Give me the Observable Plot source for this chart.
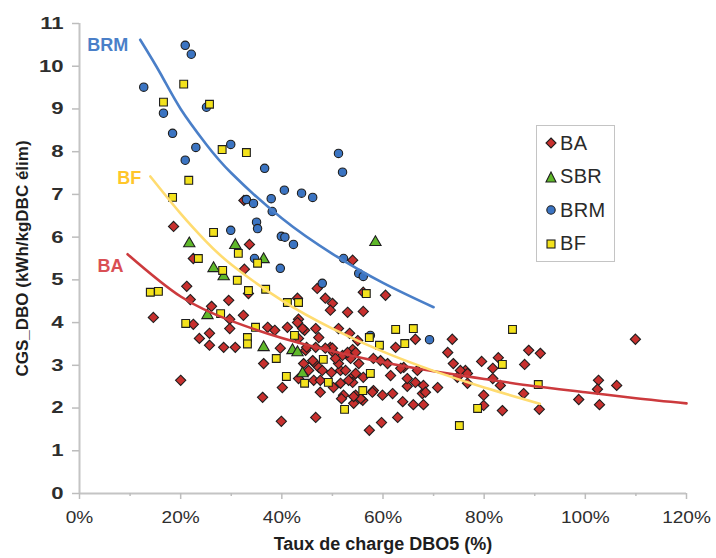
<!DOCTYPE html>
<html><head><meta charset="utf-8">
<script src="https://cdn.jsdelivr.net/npm/d3@7"></script>
<script src="https://cdn.jsdelivr.net/npm/@observablehq/plot@0.6"></script>
<style>
body{margin:0;background:#fff;font-family:"Liberation Sans",Arial,sans-serif;}
#wrap{position:relative;width:716px;height:558px;overflow:hidden;}
#legend{position:absolute;left:536px;top:125px;width:79px;height:137px;border:1.5px solid #c4c4c4;box-sizing:border-box;background:#fff;}
.li{position:absolute;left:8px;display:flex;align-items:center;font-size:20px;color:#2a2a2a;height:24px;letter-spacing:0.3px;}
.li svg{margin-right:3px;}
</style></head><body><div id="wrap"><div id="legend"></div></div>
<script>
// ---- data (x: taux de charge DBO5 in %, y: CGS_DBO) ----
const seriesNames = ["BA", "SBR", "BRM", "BF"];
const xTicks = [0, 20, 40, 60, 80, 100, 120];
const xMinorTicks = [10, 30, 50, 70, 90, 110];
const yTicks = [0, 1, 2, 3, 4, 5, 6, 7, 8, 9, 10, 11];

const baPoints = [
[18.6,6.25],[33.6,5.83],[22.5,5.5],[32.6,5.25],[54.0,5.46],[21.2,4.85],[33.4,4.68],[21.9,4.54],[29.5,4.52],[26.1,4.38],
[32.4,4.17],[14.6,4.12],[43.1,4.57],[43.3,4.08],[29.7,4.08],[29.7,3.86],[22.5,3.96],[37.2,3.89],[38.6,3.82],[41.1,3.89],
[44.5,3.82],[23.7,3.63],[25.7,3.47],[28.5,3.42],[30.8,3.42],[25.7,3.75],[20.0,2.65],[36.4,3.04],[36.2,2.25],[39.7,3.40],
[40.1,2.48],[39.9,1.69],[46.7,1.78],[47.0,4.80],[48.6,4.57],[50.0,4.45],[49.6,4.29],[53.0,4.24],[56.1,4.26],[56.1,4.71],
[60.5,4.64],[47.3,3.65],[51.2,3.86],[53.4,3.75],[66.4,3.61],[73.7,3.61],[62.5,3.42],[49.6,3.42],[72.8,3.30],[88.8,3.35],
[91.1,3.28],[88.0,3.02],[82.8,3.18],[79.5,3.09],[81.7,2.93],[73.9,3.04],[76.3,2.88],[81.7,2.69],[83.2,2.53],[87.8,2.34],
[90.9,1.97],[83.6,1.94],[79.9,2.06],[79.9,2.30],[98.7,2.20],[102.6,2.65],[102.4,2.44],[102.8,2.08],[106.2,2.53],[109.9,3.61],
[70.8,2.48],[68.0,2.08],[66.0,2.08],[63.9,2.15],[61.9,2.34],[59.9,2.30],[58.1,2.41],[62.9,1.78],[59.7,1.66],[57.3,1.48],
[67.8,2.34],[64.8,2.51],[66.8,2.88],[64.8,2.69],[61.5,2.76],[64.1,2.95],[58.1,3.16],[54.0,3.37],[51.6,2.88],[54.2,2.76],
[54.6,2.30],[56.0,2.18],[52.2,2.30],[44.3,3.04],[46.3,3.07],[45.3,2.88],[47.3,2.95],[49.8,2.83],[50.2,3.30],[52.0,3.23],
[53.6,3.16],[55.2,3.04],[51.2,3.04],[54.6,2.81],[56.1,2.72],[59.5,3.11],[60.9,3.04],[63.5,2.93],[66.4,2.60],[68.0,2.53],
[68.4,2.37],[75.3,2.88],[76.7,2.81],[74.7,2.72],[76.7,2.58],[47.6,2.37],[54.2,2.11],[55.6,2.22],[51.6,2.58],[54.0,2.60],
[43.1,4.00],[43.3,3.63],[44.7,3.35],[46.1,3.11],[43.3,2.69],[50.0,3.40],[50.6,3.16],[48.0,2.88],[44.1,3.86],[46.7,3.86],
[55.0,3.58],[44.9,3.42],[46.7,3.42],[48.6,3.40],[53.0,3.30],[54.6,3.30],[52.6,2.88],[46.3,2.65],[47.6,2.65],[53.2,2.65],
[50.2,2.48],[51.8,2.22],[54.2,2.27],[57.9,2.37],[32.5,6.86]
];
const sbrPoints = [
[21.7,5.85],[30.8,5.81],[36.4,5.48],[26.5,5.27],[28.5,5.08],[25.3,4.17],[36.4,3.42],[42.1,3.35],[43.1,3.30],[44.1,2.81],[58.5,5.88]
];
const brmPoints = [
[12.7,9.51],[20.9,10.49],[22.1,10.28],[16.6,8.90],[18.4,8.43],[23.0,8.10],[20.9,7.80],[25.1,9.04],[29.9,8.17],[36.6,7.61],
[40.5,7.10],[43.9,7.03],[46.1,6.93],[37.9,6.90],[33.0,6.88],[34.4,6.79],[38.1,6.60],[35.0,6.35],[35.2,6.20],[29.9,6.16],
[39.9,6.02],[40.6,6.00],[42.3,5.83],[39.7,5.27],[34.6,5.50],[51.2,7.96],[52.0,7.52],[52.2,5.50],[55.2,5.15],[56.1,5.08],
[48.0,4.92],[57.5,3.70],[69.2,3.60]
];
const bfPoints = [
[20.6,9.58],[16.6,9.16],[25.7,9.11],[28.2,8.05],[33.0,7.98],[21.6,7.33],[18.4,6.93],[26.5,6.11],[23.5,5.50],[31.4,5.62],
[35.2,5.39],[28.3,5.22],[31.2,4.99],[33.4,4.75],[36.8,4.78],[41.1,4.47],[43.3,4.47],[14.0,4.71],[15.6,4.73],[21.0,3.98],
[27.9,4.21],[34.8,3.89],[33.2,3.65],[33.2,3.50],[42.5,3.70],[38.9,3.16],[40.9,2.74],[44.5,2.58],[57.3,3.65],[59.3,3.47],
[64.3,3.51],[48.2,3.14],[49.2,2.60],[56.0,2.41],[52.4,1.97],[75.1,1.59],[78.7,1.99],[62.5,3.84],[66.0,3.86],[56.7,4.68],
[57.5,2.81],[85.6,3.84],[83.6,3.02],[90.7,2.55]
];
// trend curves
const baTrend = [[9.5,5.6],[20,4.61],[30,4.04],[40,3.64],[50,3.33],[60,3.07],[70,2.86],[80,2.68],[90,2.51],[100,2.37],[110,2.23],[120,2.11]];
const brmTrend = [[12,10.62],[16,9.83],[20,9.0],[25,8.18],[30,7.5],[40,6.44],[50,5.61],[60,4.93],[70,4.36]];
const bfTrend = [[14,7.42],[20,6.55],[25,5.9],[30,5.36],[40,4.52],[50,3.86],[60,3.32],[70,2.87],[80,2.48],[91,2.1]];

const colors = {BA:"#c8302e", SBR:"#5fb82a", BRM:"#3b74c2", BF:"#f3e21c"};
const lineColors = {BA:"#cc3a3d", BRM:"#4a7fc8", BF:"#ffdc70"};
const labelColors = {BA:"#d94f54", BRM:"#4a7fc8", BF:"#ffc62a"};

const toRows = (pts, s) => pts.map(([x, y]) => ({x, y, s}));
const font = "Liberation Sans, Arial, sans-serif";

const dotOpts = (s, symbol, r) => ({x:"x", y:"y", symbol, r, fill: colors[s], stroke:"#1e1e1e", strokeWidth:1.1});

const trendLabel = (pts, name, dx, dy) =>
  Plot.text([pts[0]], {x: d => d[0], y: d => d[1], text: () => name, textAnchor:"end", dx, dy,
    fill: labelColors[name], fontWeight:"bold", fontSize:18, fontFamily:font, ariaLabel:"trend-label"});

const plot = Plot.plot({
  width:716, height:558,
  marginLeft:79, marginRight:30, marginTop:23, marginBottom:65,
  style:{fontFamily:font, background:"white", overflow:"visible"},
  x:{domain:[0,120]},
  y:{domain:[0,11]},
  marks:[
    Plot.ruleY([0], {stroke:"#c4c4c4", strokeWidth:2}),
    Plot.ruleX([0], {stroke:"#c4c4c4", strokeWidth:2}),
    Plot.axisY({ticks:yTicks, tickSize:7, tickPadding:9, fontSize:17, fontWeight:"bold", stroke:"#bdbdbd", strokeWidth:1.5, fill:"#2e2e2e", label:null}),
    Plot.axisX({ticks:xTicks, tickFormat:d => d + "%", tickSize:6, tickPadding:11, fontSize:17, stroke:"#bdbdbd", strokeWidth:1.5, fill:"#2e2e2e", label:null}),
    Plot.axisX({ticks:xMinorTicks, tickFormat:() => "", tickSize:3, stroke:"#bdbdbd", strokeWidth:1.5, label:null}),
    Plot.text(["Taux de charge DBO5 (%)"], {frameAnchor:"bottom", lineAnchor:"middle", textAnchor:"middle", dy:51, fontWeight:"bold", fontSize:18, fill:"#1e1e1e", fontFamily:font, ariaLabel:"x-title"}),
    Plot.text(["CGS_DBO (kWh/kgDBC élim)"], {frameAnchor:"left", lineAnchor:"middle", textAnchor:"middle", dx:-57, rotate:-90, fontWeight:"bold", fontSize:17, fill:"#1e1e1e", fontFamily:font, ariaLabel:"y-title"}),
    Plot.dot(toRows(baPoints, "BA"), dotOpts("BA", "diamond2", 4.6)),
    Plot.dot(toRows(sbrPoints, "SBR"), dotOpts("SBR", "triangle", 4.2)),
    Plot.dot(toRows(brmPoints, "BRM"), dotOpts("BRM", "circle", 4.2)),
    Plot.dot(toRows(bfPoints, "BF"), dotOpts("BF", "square", 4.4)),
    Plot.line(baTrend, {x: d => d[0], y: d => d[1], stroke: lineColors.BA, strokeWidth:2.6, curve:"natural"}),
    Plot.line(brmTrend, {x: d => d[0], y: d => d[1], stroke: lineColors.BRM, strokeWidth:2.6, curve:"natural"}),
    Plot.line(bfTrend, {x: d => d[0], y: d => d[1], stroke: lineColors.BF, strokeWidth:2.6, curve:"natural"}),
    trendLabel(brmTrend, "BRM", -12, 5),
    trendLabel(bfTrend, "BF", -9, 2),
    trendLabel(baTrend, "BA", -4, 12)
  ]
});
const wrap = document.getElementById("wrap");
wrap.insertBefore(plot, wrap.firstChild);

// the reference's lettering is slightly widened: stretch text horizontally
function stretch(sel, factor, target) {
  plot.querySelectorAll(sel).forEach(t => {
    const len = t.getComputedTextLength();
    if (!len) return;
    t.setAttribute("textLength", target || len * factor);
    t.setAttribute("lengthAdjust", "spacingAndGlyphs");
  });
}
stretch('g[aria-label="y-axis tick label"] text', 1.3);
stretch('g[aria-label="x-axis tick label"] text', 1.12);
stretch('g[aria-label="x-title"] text', 1, 255);
stretch('g[aria-label="y-title"] text', 1, 312);
stretch('g[aria-label="trend-label"] text', 1.15);

// legend
const legend = document.getElementById("legend");
const symbolSvg = {
  BA: `<polygon points="6,1 11,6 6,11 1,6" fill="${colors.BA}" stroke="#1e1e1e" stroke-width="1.1"/>`,
  SBR: `<polygon points="6,1 11,11 1,11" fill="${colors.SBR}" stroke="#1e1e1e" stroke-width="1.1"/>`,
  BRM: `<circle cx="6" cy="6" r="4.2" fill="${colors.BRM}" stroke="#1e1e1e" stroke-width="1.1"/>`,
  BF: `<rect x="2" y="2" width="8" height="8" fill="${colors.BF}" stroke="#1e1e1e" stroke-width="1.1"/>`
};
seriesNames.forEach((s, i) => {
  const d = document.createElement("div");
  d.className = "li";
  d.style.top = (5 + i * 33.5) + "px";
  d.innerHTML = `<svg width="12" height="12">${symbolSvg[s]}</svg><span>${s}</span>`;
  legend.appendChild(d);
});
</script>
</body></html>
